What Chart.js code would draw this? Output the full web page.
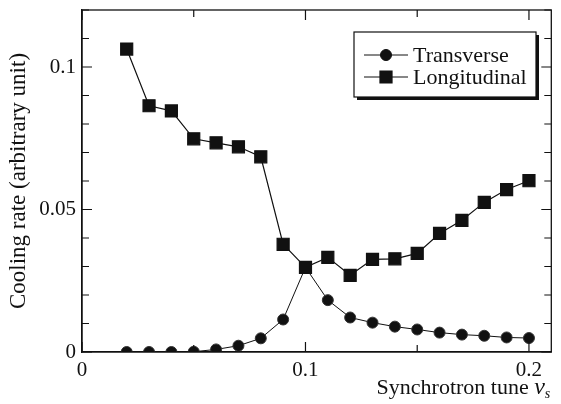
<!DOCTYPE html>
<html>
<head>
<meta charset="utf-8">
<script src="https://cdn.jsdelivr.net/npm/chart.js@4/dist/chart.umd.min.js"></script>
<style>
  html, body { margin: 0; padding: 0; background: #fff; }
  #wrap { width: 561px; height: 404px; }
</style>
</head>
<body>
<div id="wrap"><canvas id="coolingChart" width="561" height="404"></canvas></div>
<script>
    // --- DATA ---
    const tunes = [0.02, 0.03, 0.04, 0.05, 0.06, 0.07, 0.08, 0.09, 0.10, 0.11,
                   0.12, 0.13, 0.14, 0.15, 0.16, 0.17, 0.18, 0.19, 0.20];
    const transverse = [0.0000, 0.0000, 0.0000, 0.0001, 0.0009, 0.0022, 0.0048, 0.0114, 0.0297, 0.0182,
                        0.0121, 0.0103, 0.0089, 0.0079, 0.0068, 0.0061, 0.0057, 0.0051, 0.0049];
    const longitudinal = [0.1063, 0.0864, 0.0846, 0.0748, 0.0734, 0.0720, 0.0685, 0.0378, 0.0297, 0.0332,
                          0.0269, 0.0325, 0.0327, 0.0346, 0.0416, 0.0462, 0.0525, 0.0570, 0.0601];
    const seriesLabels = ['Transverse', 'Longitudinal'];

    const xTickValues = [0, 0.05, 0.1, 0.15, 0.2];
    const xLabelValues = [0, 0.1, 0.2];
    const yLabelValues = [0, 0.05, 0.1];
    const xTitle = 'Synchrotron tune ';
    const yTitle = 'Cooling rate (arbitrary unit)';

    const serif = '"Liberation Serif", "DejaVu Serif", serif';
    const ink = '#111';

    function near(v, list) {
        return list.some(t => Math.abs(v - t) < 1e-9);
    }
    function fmt(v) {
        return String(Math.round(v * 1000) / 1000);
    }
    function toPoints(ys) {
        return tunes.map((x, i) => ({ x: x, y: ys[i] }));
    }

    // --- PLUGINS ---

    // Frame on top/right plus inward ticks on all four sides
    const frameTicks = {
        id: 'frameTicks',
        afterDraw(chart) {
            const { ctx, chartArea: a, scales } = chart;
            ctx.save();
            ctx.strokeStyle = ink;
            ctx.lineWidth = 1.3;
            ctx.strokeRect(a.left, a.top, a.right - a.left, a.bottom - a.top);

            ctx.lineWidth = 1.2;
            ctx.beginPath();
            xTickValues.forEach(v => {
                const px = scales.x.getPixelForValue(v);
                const len = near(v, xLabelValues) ? 10 : 7;
                ctx.moveTo(px, a.bottom); ctx.lineTo(px, a.bottom - len);
                ctx.moveTo(px, a.top); ctx.lineTo(px, a.top + len);
            });
            for (let i = 0; i <= 12; i++) {
                const v = i / 100;
                const py = scales.y.getPixelForValue(v);
                const len = near(v, yLabelValues) ? 10 : 7;
                ctx.moveTo(a.left, py); ctx.lineTo(a.left + len, py);
                ctx.moveTo(a.right, py); ctx.lineTo(a.right - len, py);
            }
            ctx.stroke();

            // x axis title with italic nu and subscript s
            ctx.fillStyle = ink;
            ctx.textBaseline = 'alphabetic';
            ctx.textAlign = 'left';
            ctx.font = '22px ' + serif;
            const wMain = ctx.measureText(xTitle).width;
            ctx.font = 'italic 24px ' + serif;
            const wNu = ctx.measureText('ν').width;
            ctx.font = 'italic 14px ' + serif;
            const wS = ctx.measureText('s').width;
            const base = 394;
            const x0 = a.right - 1 - wMain - wNu - wS;
            ctx.font = '22px ' + serif;
            ctx.fillText(xTitle, x0, base);
            ctx.font = 'italic 24px ' + serif;
            ctx.fillText('ν', x0 + wMain, base);
            ctx.font = 'italic 14px ' + serif;
            ctx.fillText('s', x0 + wMain + wNu, base + 4);
            ctx.restore();
        }
    };

    // Boxed legend with drop shadow
    const boxLegend = {
        id: 'boxLegend',
        afterDraw(chart) {
            const { ctx } = chart;
            const bx = 354, by = 32, bw = 182, bh = 65;
            ctx.save();
            ctx.fillStyle = ink;
            ctx.fillRect(bx + 3, by + 3, bw, bh);
            ctx.fillStyle = '#fff';
            ctx.fillRect(bx, by, bw, bh);
            ctx.strokeStyle = ink;
            ctx.lineWidth = 1.2;
            ctx.strokeRect(bx, by, bw, bh);

            const rows = [55, 77];
            chart.data.datasets.forEach((ds, i) => {
                const y = rows[i];
                ctx.strokeStyle = ds.borderColor;
                ctx.lineWidth = ds.borderWidth;
                ctx.beginPath();
                ctx.moveTo(bx + 10, y);
                ctx.lineTo(bx + 54, y);
                ctx.stroke();
                Chart.helpers.drawPoint(ctx, {
                    pointStyle: ds.pointStyle,
                    radius: ds.pointRadius,
                    borderWidth: 1
                }, bx + 32, y);
                ctx.fillStyle = ink;
                ctx.fill();
                ctx.font = '22px ' + serif;
                ctx.textBaseline = 'middle';
                ctx.textAlign = 'left';
                ctx.fillText(ds.label, bx + 59, y + 1);
            });
            ctx.restore();
        }
    };

    // --- CHART ---
    const ctx = document.getElementById('coolingChart').getContext('2d');
    new Chart(ctx, {
        type: 'line',
        data: {
            datasets: [
                {
                    label: seriesLabels[0],
                    data: toPoints(transverse),
                    borderColor: ink,
                    borderWidth: 1,
                    backgroundColor: ink,
                    pointStyle: 'circle',
                    pointRadius: 5.5,
                    pointBorderColor: '#333',
                    pointBackgroundColor: ink,
                    order: 1
                },
                {
                    label: seriesLabels[1],
                    data: toPoints(longitudinal),
                    borderColor: ink,
                    borderWidth: 1.2,
                    backgroundColor: ink,
                    pointStyle: 'rect',
                    pointRadius: 8.5,
                    pointBorderColor: ink,
                    pointBackgroundColor: ink,
                    order: 0
                }
            ]
        },
        options: {
            responsive: false,
            animation: false,
            layout: { padding: { top: 10, right: 3, left: 0, bottom: 0 } },
            scales: {
                x: {
                    type: 'linear',
                    min: 0,
                    max: 0.21,
                    afterFit: s => { s.height = 52; s.paddingLeft = 0; s.paddingRight = 0; },
                    afterBuildTicks: s => { s.ticks = xLabelValues.map(v => ({ value: v })); },
                    grid: { display: false, drawTicks: false },
                    border: { display: true, color: ink, width: 1.3 },
                    ticks: {
                        color: ink,
                        font: { family: serif, size: 21 },
                        padding: 6,
                        maxRotation: 0,
                        callback: v => fmt(v)
                    },
                    title: { display: false }
                },
                y: {
                    min: 0,
                    max: 0.12,
                    afterFit: s => { s.width = 82; s.paddingTop = 0; s.paddingBottom = 0; },
                    afterBuildTicks: s => { s.ticks = yLabelValues.map(v => ({ value: v })); },
                    grid: { display: false, drawTicks: false },
                    border: { display: true, color: ink, width: 1.3 },
                    ticks: {
                        color: ink,
                        font: { family: serif, size: 21 },
                        padding: 6,
                        callback: v => fmt(v)
                    },
                    title: {
                        display: true,
                        text: yTitle,
                        color: ink,
                        font: { family: serif, size: 23 },
                        padding: { top: 5, bottom: 0 }
                    }
                }
            },
            plugins: {
                legend: { display: false },
                tooltip: { enabled: false }
            }
        },
        plugins: [frameTicks, boxLegend]
    });
</script>
</body>
</html>
